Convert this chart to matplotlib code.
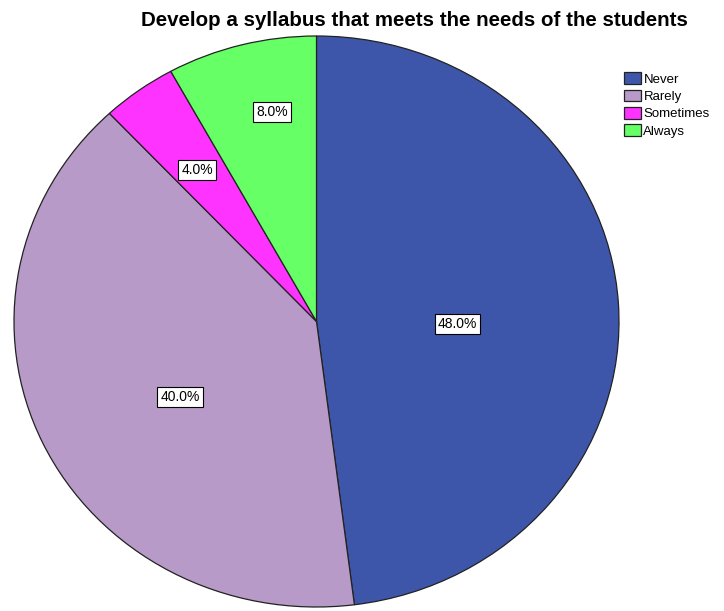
import matplotlib
matplotlib.use("Agg")
import matplotlib.pyplot as plt
import numpy as np

plt.rcParams['font.family'] = ['Liberation Sans', 'DejaVu Sans']

categories = ["Never", "Rarely", "Sometimes", "Always"]
values = [48.0, 40.0, 4.0, 8.0]
colors = ["#3E56AA", "#B79AC8", "#FF33FF", "#66FF66"]
# label placement: radial distance and angular offset (deg) from the wedge middle
label_dist = [0.466, 0.524, 0.662, 0.747]
label_dang = [-4.5, 5.3, 0.6, -3.0]

fig = plt.figure(figsize=(7.24, 6.11), dpi=100)
W, H = 724, 611
ax = fig.add_axes([14 / W, (H - 607) / H, 605 / W, 571 / H])

wedges, _ = ax.pie(values, colors=colors, startangle=90, counterclock=False,
                   wedgeprops=dict(edgecolor="#222222", linewidth=0.9))
ax.set_aspect('auto')
ax.set_xlim(-1, 1)
ax.set_ylim(-1, 1)

for w, v, d, da in zip(wedges, values, label_dist, label_dang):
    ang = np.deg2rad((w.theta1 + w.theta2) / 2 + da)
    ax.text(d * np.cos(ang), d * np.sin(ang), f"{v:.1f}%", ha="center", va="center",
            fontsize=10,
            bbox=dict(boxstyle="square,pad=0.22", facecolor="white", edgecolor="black", linewidth=0.8))

fig.text(414 / W, 1 - 20 / H, "Develop a syllabus that meets the needs of the students",
         ha="center", va="center", fontsize=14.8, fontweight="bold")

leg = fig.legend(wedges, categories, loc="upper left", bbox_to_anchor=(619 / W, 1 - 67 / H),
                 frameon=False, fontsize=9.5, handlelength=1.3, handleheight=1.0,
                 handletextpad=0.15, labelspacing=0.3, borderaxespad=0)

fig.savefig("out.png", dpi=100)
